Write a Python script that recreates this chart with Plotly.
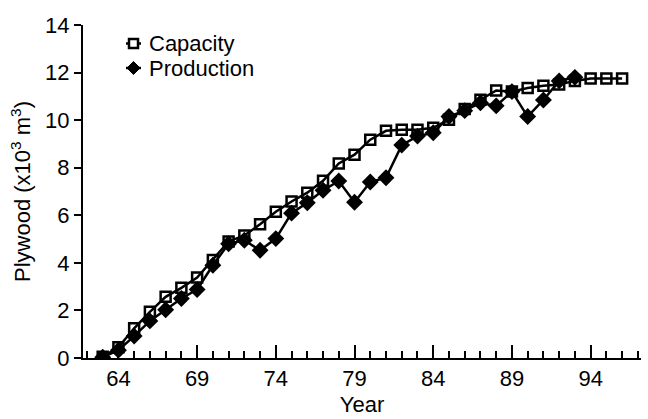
import plotly.graph_objects as go

# Plywood capacity and production by year (thousand m^3)
cap_years = list(range(63, 97))
capacity = [0.05, 0.45, 1.25, 1.94, 2.57, 2.95, 3.38, 4.12, 4.90, 5.15,
            5.62, 6.15, 6.58, 6.95, 7.45, 8.18, 8.55, 9.18, 9.55, 9.60,
            9.60, 9.68, 10.02, 10.47, 10.86, 11.25, 11.20, 11.35, 11.45, 11.50,
            11.65, 11.75, 11.75, 11.75]

prod_years = list(range(63, 94))
production = [0.03, 0.33, 0.92, 1.56, 2.03, 2.50, 2.88, 3.90, 4.80, 4.95,
              4.53, 5.02, 6.09, 6.53, 7.05, 7.44, 6.55, 7.40, 7.58, 8.95,
              9.33, 9.47, 10.15, 10.40, 10.73, 10.60, 11.20, 10.15, 10.85, 11.65,
              11.80]

FONT = "Liberation Sans, Arial, sans-serif"
FS = 22

fig = go.Figure()
fig.add_trace(go.Scatter(
    x=prod_years, y=production, name="Production", mode="lines+markers",
    line=dict(color="black", width=2.5),
    marker=dict(symbol="diamond", size=13, color="black"),
))
fig.add_trace(go.Scatter(
    x=cap_years, y=capacity, name="Capacity", mode="lines+markers",
    line=dict(color="black", width=2.5),
    marker=dict(symbol="square-open", size=10, color="black",
                line=dict(width=2.5, color="black")),
))

# plot-area box in pixels
L, R, T, B = 83, 641, 25, 358
W, H = R - L, B - T


def px(xp):
    return (xp - L) / W


def py(yp):
    return (B - yp) / H


# hand-drawn legend in the upper-left corner
shapes = []
annotations = []
rows = [("Capacity", 43.5, "square"), ("Production", 68.0, "diamond")]
cxp = 133.5
for label, yrow, sym in rows:
    yy = py(yrow)
    shapes.append(dict(type="line", xref="paper", yref="paper",
                       x0=px(126), x1=px(141), y0=yy, y1=yy,
                       line=dict(color="black", width=2.5)))
    if sym == "square":
        shapes.append(dict(type="rect", xref="paper", yref="paper",
                           x0=px(cxp - 4.5), x1=px(cxp + 4.5),
                           y0=py(yrow + 4.5), y1=py(yrow - 4.5),
                           fillcolor="white",
                           line=dict(color="black", width=2.5)))
    else:
        d = 6.5
        pts = [(cxp - d, yrow), (cxp, yrow - d), (cxp + d, yrow), (cxp, yrow + d)]
        path = "M " + " L ".join(f"{px(a):.5f},{py(b):.5f}" for a, b in pts) + " Z"
        shapes.append(dict(type="path", xref="paper", yref="paper",
                           path=path, fillcolor="black",
                           line=dict(color="black", width=1)))
    annotations.append(dict(text=label, xref="paper", yref="paper",
                            x=px(147), y=yy, xanchor="left", yanchor="middle",
                            showarrow=False,
                            font=dict(family=FONT, size=FS, color="black")))

fig.update_layout(
    width=648, height=419,
    margin=dict(l=L, r=648 - R, t=T, b=419 - B),
    paper_bgcolor="white", plot_bgcolor="white",
    showlegend=False,
    font=dict(family=FONT, size=FS, color="black"),
    shapes=shapes, annotations=annotations,
)
# labelled years every 5 with long ticks, a short tick for every year
fig.update_xaxes(
    range=[61.75, 97.2], tickmode="linear", tick0=64, dtick=5,
    ticks="inside", ticklen=13, tickwidth=2, tickcolor="black",
    minor=dict(dtick=1, ticks="inside", ticklen=7, tickwidth=2,
               tickcolor="black", showgrid=False),
    showline=True, linecolor="black", linewidth=2, showgrid=False,
    zeroline=False,
    tickfont=dict(family=FONT, size=FS, color="black"),
    title=dict(text="Year", font=dict(family=FONT, size=FS), standoff=6),
)
fig.update_yaxes(
    range=[0, 14], tickmode="linear", tick0=0, dtick=2,
    ticks="outside", ticklen=7, tickwidth=2, tickcolor="black",
    showline=True, linecolor="black", linewidth=2, showgrid=False,
    zeroline=False,
    tickfont=dict(family=FONT, size=FS, color="black"),
    title=dict(text="Plywood (x10<sup>3</sup> m<sup>3</sup>)",
               font=dict(family=FONT, size=FS), standoff=8),
)

fig.write_html("out.html")
